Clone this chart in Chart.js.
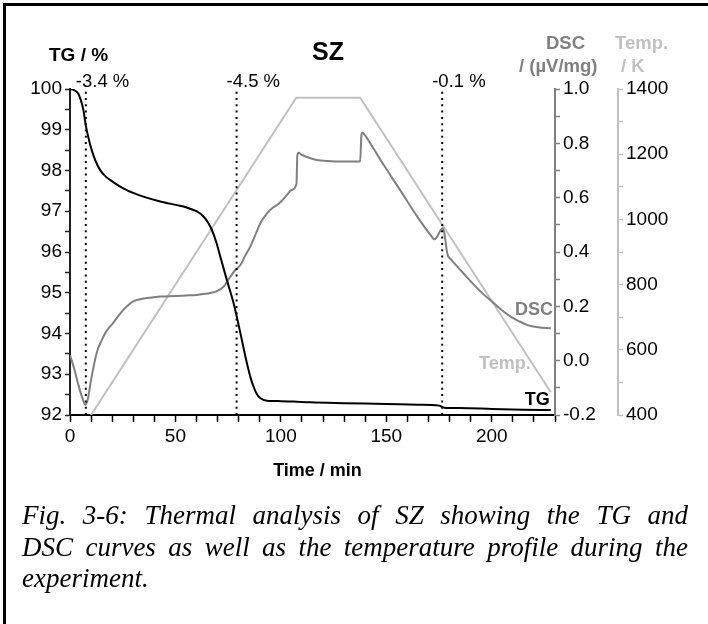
<!DOCTYPE html>
<html>
<head>
<meta charset="utf-8">
<script src="https://cdn.jsdelivr.net/npm/chart.js@4.4.1/dist/chart.umd.min.js"></script>
<style>
  html, body { margin: 0; padding: 0; background: #fff; }
  #wrap { position: relative; width: 708px; height: 624px; overflow: hidden; background: #fff; }
  #frame { position: absolute; left: 3px; top: 3px; width: 720px; height: 640px; border-top: 3px solid #000; border-left: 3px solid #000; }
  canvas { position: absolute; left: 0; top: 0; }
  #caption { position: absolute; left: 22px; top: 500px; width: 666px; font-family: "Liberation Serif", "Times New Roman", serif; font-style: italic; font-size: 27px; line-height: 31.5px; color: #000; }
  #caption .j { display: block; text-align: justify; text-align-last: justify; white-space: nowrap; }
  #caption .l { display: block; text-align: left; }
</style>
</head>
<body>
<div id="wrap">
  <div id="frame"></div>
  <canvas id="c" width="708" height="624"></canvas>
  <div id="caption"><span class="j">Fig. 3-6: Thermal analysis of SZ showing the TG and</span><span class="j">DSC curves as well as the temperature profile during the</span><span class="l">experiment.</span></div>
</div>
<script>
// ---- data ----
const tgTime = [0, 2, 3.9, 5, 6.3, 7.5, 9, 10.3, 12, 14.3, 17, 19, 23, 26.9, 30, 34.8, 42.8, 50.7, 55, 58.6, 61, 63.3, 65.5, 67.3, 69.5, 71.3, 74.4, 77.6, 80.8, 83.9, 86, 87.1, 88.5, 90.3, 93.4, 100, 106, 114, 130, 150, 165, 175, 177.5, 185, 200, 215, 228];
const tgValues = [100, 99.97, 99.89, 99.75, 99.5, 99.1, 98.75, 98.5, 98.25, 98.01, 97.85, 97.77, 97.63, 97.52, 97.45, 97.36, 97.24, 97.15, 97.1, 97.03, 96.97, 96.87, 96.72, 96.54, 96.22, 95.88, 95.31, 94.74, 94.01, 93.27, 92.85, 92.69, 92.52, 92.41, 92.35, 92.34, 92.33, 92.31, 92.29, 92.27, 92.25, 92.23, 92.18, 92.17, 92.15, 92.13, 92.12];

const dscTime = [0, 2, 4, 6, 7.3, 8.5, 10, 12.7, 15, 17, 20.6, 24, 27, 30, 33.3, 38, 42.8, 50, 55, 60, 63.3, 67, 69.7, 72.8, 76, 78, 80.8, 83, 85.5, 88, 90.3, 93.4, 96, 98.2, 100, 102.9, 105, 107.4, 107.8, 108.3, 110, 114, 117, 122, 130, 137.6, 138.2, 138.7, 140, 144, 148.8, 156.8, 164.7, 171, 172.8, 174, 175.5, 176.6, 177.5, 178.9, 181, 183.7, 187, 191.6, 196, 201.1, 205, 209, 213, 217, 222, 228];
const dscValues = [0.02, -0.03, -0.09, -0.14, -0.163, -0.14, -0.07, 0.03, 0.075, 0.105, 0.14, 0.175, 0.2, 0.218, 0.226, 0.232, 0.236, 0.238, 0.24, 0.242, 0.245, 0.25, 0.256, 0.272, 0.309, 0.33, 0.352, 0.385, 0.42, 0.465, 0.506, 0.542, 0.562, 0.573, 0.585, 0.61, 0.628, 0.65, 0.755, 0.765, 0.757, 0.745, 0.739, 0.735, 0.733, 0.733, 0.83, 0.839, 0.828, 0.78, 0.72, 0.625, 0.53, 0.462, 0.447, 0.455, 0.477, 0.487, 0.47, 0.395, 0.37, 0.346, 0.318, 0.279, 0.245, 0.211, 0.185, 0.162, 0.145, 0.131, 0.123, 0.119];

const tempTime = [0, 107.3, 137.6, 228];
const tempValues = [300, 1373, 1373, 470];

const lossTimes = [7.5, 79, 176.5];
const lossLabels = ['-3.4 %', '-4.5 %', '-0.1 %'];

const xTickLabels = [0, 50, 100, 150, 200];

// ---- build ----
const pts = (xs, ys) => xs.map((x, i) => ({ x: x, y: ys[i] }));
const FONT = '"Liberation Sans", Arial, sans-serif';
const GRAY = '#808080';
const LIGHT = '#c0c0c0';

const lossSets = lossTimes.map(t => ({
  data: [{ x: t, y: 92 }, { x: t, y: 100 }],
  yAxisID: 'y', borderColor: '#000', borderWidth: 2, borderDash: [2, 4.3],
  pointRadius: 0, fill: false, order: 0
}));

const textPlugin = {
  id: 'texts',
  afterDraw(chart) {
    const ctx = chart.ctx;
    const xs = chart.scales.x, ys = chart.scales.y, y1 = chart.scales.y1, y2 = chart.scales.y2;
    ctx.save();
    ctx.textBaseline = 'alphabetic';
    ctx.fillStyle = '#000';
    ctx.font = 'bold 19px ' + FONT;
    ctx.textAlign = 'left';
    ctx.fillText('TG / %', 49, 61);
    ctx.font = 'bold 25px ' + FONT;
    ctx.fillText('SZ', 312, 60);
    ctx.font = 'bold 18.5px ' + FONT;
    ctx.fillStyle = GRAY;
    ctx.fillText('DSC', 546, 49);
    ctx.fillText('/ (µV/mg)', 519, 72);
    ctx.fillStyle = LIGHT;
    ctx.fillText('Temp.', 615, 49);
    ctx.fillText('/ K', 621, 72);
    // weight-loss labels
    ctx.fillStyle = '#000';
    ctx.font = '18.5px ' + FONT;
    lossTimes.forEach((t, i) => {
      ctx.fillText(lossLabels[i], xs.getPixelForValue(t) - 10, chart.chartArea.top - 2);
    });
    // curve labels
    ctx.textAlign = 'right';
    ctx.font = 'bold 18px ' + FONT;
    ctx.fillStyle = '#000';
    ctx.fillText('TG', xs.getPixelForValue(227.5), ys.getPixelForValue(92.2) - 2);
    ctx.fillStyle = GRAY;
    ctx.fillText('DSC', xs.getPixelForValue(229), y1.getPixelForValue(0.2) + 9);
    ctx.fillStyle = LIGHT;
    ctx.fillText('Temp.', xs.getPixelForValue(218.5), y2.getPixelForValue(560) + 6);
    ctx.restore();
  }
};

const tickFont = { family: FONT, size: 19 };

new Chart(document.getElementById('c'), {
  type: 'line',
  data: {
    datasets: [
      { label: 'TG', data: pts(tgTime, tgValues), yAxisID: 'y', borderColor: '#000', borderWidth: 2, pointRadius: 0, cubicInterpolationMode: 'monotone', order: 1 },
      { label: 'DSC', data: pts(dscTime, dscValues), yAxisID: 'y1', borderColor: GRAY, borderWidth: 2, pointRadius: 0, cubicInterpolationMode: 'monotone', order: 2 },
      { label: 'Temp.', data: pts(tempTime, tempValues), yAxisID: 'y2', borderColor: LIGHT, borderWidth: 2, pointRadius: 0, tension: 0, order: 3 },
      ...lossSets
    ]
  },
  options: {
    responsive: false,
    animation: false,
    events: [],
    layout: { padding: { left: 10, right: 30, top: 89, bottom: 169 } },
    plugins: { legend: { display: false }, tooltip: { enabled: false } },
    scales: {
      x: {
        type: 'linear', position: 'bottom', min: 0, max: 230,
        afterFit: s => { s.height = 40; },
        border: { color: '#000', width: 2 },
        grid: { drawOnChartArea: false, drawTicks: true, tickLength: 7, tickColor: '#000', tickWidth: 1.5 },
        ticks: { stepSize: 10, autoSkip: false, maxRotation: 0, color: '#000', font: tickFont, padding: 3,
          callback: v => xTickLabels.includes(v) ? String(v) : '' },
        title: { display: false }
      },
      y: {
        position: 'left', min: 92, max: 100,
        afterFit: s => { s.width = 60; },
        border: { color: '#222', width: 2 },
        grid: { drawOnChartArea: false, drawTicks: true, tickLength: 5, tickColor: '#222', tickWidth: 1.5 },
        ticks: { stepSize: 0.5, autoSkip: false, color: '#000', font: tickFont, padding: 3,
          callback: v => Number.isInteger(v) ? String(v) : '' }
      },
      y1: {
        position: 'right', min: -0.2, max: 1.0, weight: 0,
        afterFit: s => { s.width = 63; },
        border: { color: GRAY, width: 2 },
        grid: { drawOnChartArea: false, drawTicks: true, tickLength: 5, tickColor: GRAY, tickWidth: 1.5 },
        ticks: { stepSize: 0.1, autoSkip: false, color: '#000', font: tickFont, padding: 3,
          callback: v => { const k = Math.round(v * 10); return k % 2 === 0 ? (k / 10).toFixed(1) : ''; } }
      },
      y2: {
        position: 'right', min: 400, max: 1400, weight: 1,
        afterFit: s => { s.width = 60; },
        border: { color: LIGHT, width: 2 },
        grid: { drawOnChartArea: false, drawTicks: true, tickLength: 5, tickColor: LIGHT, tickWidth: 1.5 },
        ticks: { stepSize: 100, autoSkip: false, color: '#000', font: tickFont, padding: 3,
          callback: v => (Math.round(v) % 200 === 0) ? String(Math.round(v)) : '' }
      }
    }
  },
  plugins: [textPlugin, {
    id: 'xtitle',
    afterDraw(chart) {
      const ctx = chart.ctx;
      ctx.save();
      ctx.font = 'bold 18px ' + FONT;
      ctx.fillStyle = '#000';
      ctx.textAlign = 'center';
      ctx.fillText('Time / min', (chart.chartArea.left + chart.chartArea.right) / 2 + 5, 476);
      ctx.restore();
    }
  }]
});
</script>
</body>
</html>
